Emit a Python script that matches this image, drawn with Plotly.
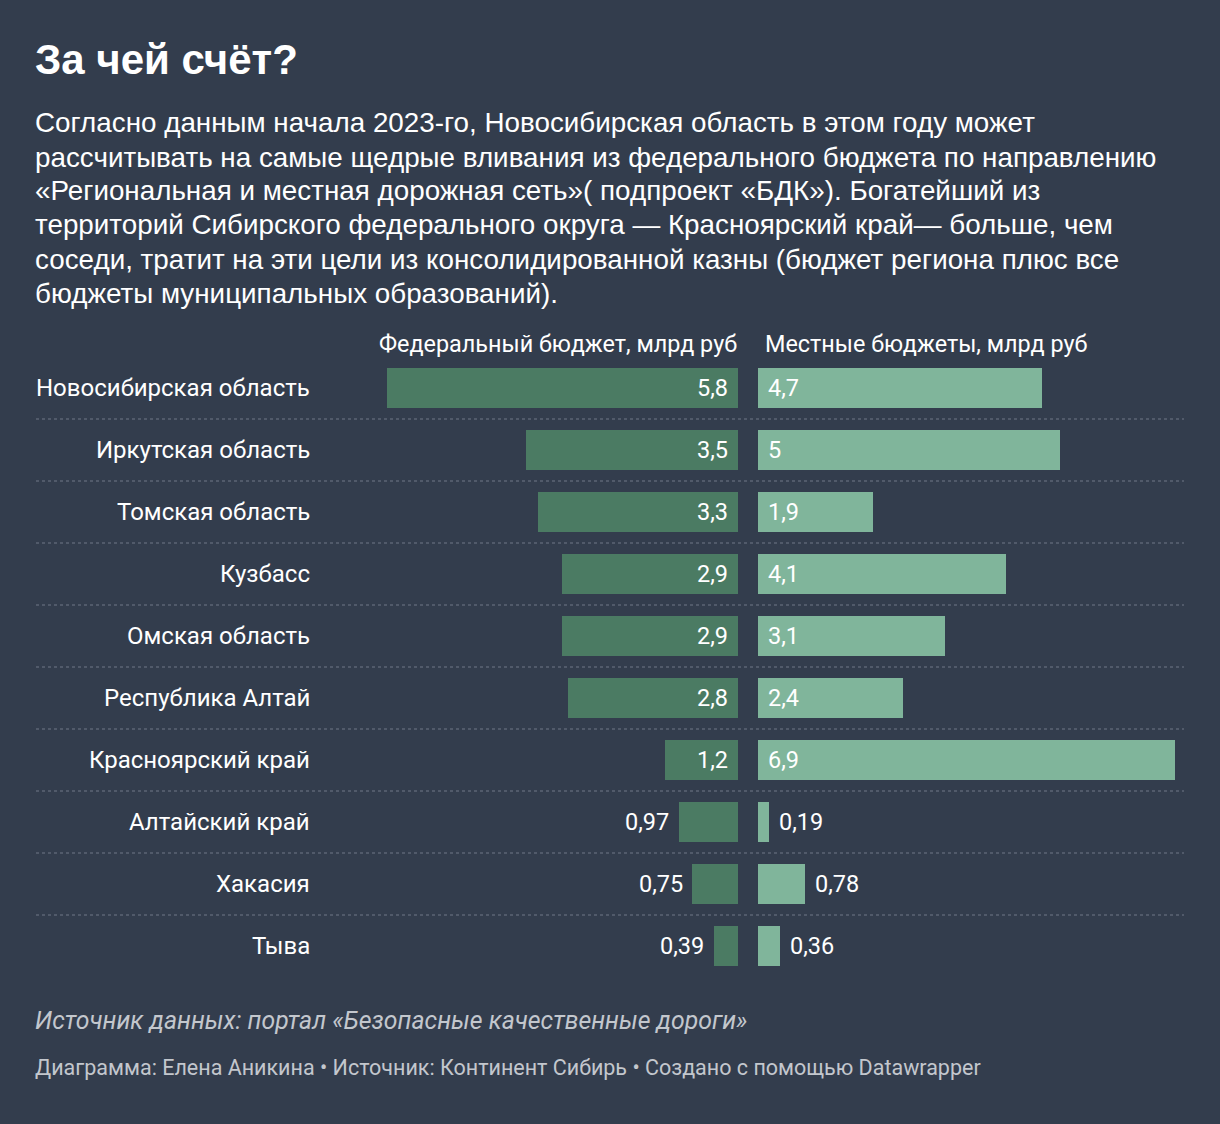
import plotly.graph_objects as go

regions = ["Новосибирская область", "Иркутская область", "Томская область", "Кузбасс",
           "Омская область", "Республика Алтай", "Красноярский край", "Алтайский край",
           "Хакасия", "Тыва"]
federal = [5.8, 3.5, 3.3, 2.9, 2.9, 2.8, 1.2, 0.97, 0.75, 0.39]
local = [4.7, 5.0, 1.9, 4.1, 3.1, 2.4, 6.9, 0.19, 0.78, 0.36]
fed_labels = ["5,8", "3,5", "3,3", "2,9", "2,9", "2,8", "1,2", "0,97", "0,75", "0,39"]
loc_labels = ["4,7", "5", "1,9", "4,1", "3,1", "2,4", "6,9", "0,19", "0,78", "0,36"]

title = "За чей счёт?"
subtitle_lines = [
    "Согласно данным начала 2023-го, Новосибирская область в этом году может",
    "рассчитывать на самые щедрые вливания из федерального бюджета по направлению",
    "«Региональная и местная дорожная сеть»( подпроект «БДК»). Богатейший из",
    "территорий Сибирского федерального округа — Красноярский край— больше, чем",
    "соседи, тратит на эти цели из консолидированной казны (бюджет региона плюс все",
    "бюджеты муниципальных образований).",
]
head_left = "Федеральный бюджет, млрд руб"
head_right = "Местные бюджеты, млрд руб"
note = "Источник данных: портал «Безопасные качественные дороги»"
credit = "Диаграмма: Елена Аникина • Источник: Континент Сибирь • Создано с помощью Datawrapper"

W, H = 1220, 1124
BG = "#333d4d"
DARK = "#4b7b63"
LIGHT = "#80b59b"
PX_PER_UNIT = 60.4
ROW0, ROWSTEP = 388, 62

def px(x):
    return x / W

n = len(regions)
ys = list(range(n))
y_top = (0 - ROW0) / ROWSTEP
y_bot = (H - ROW0) / ROWSTEP

fig = go.Figure()
fig.add_trace(go.Bar(x=federal, y=ys, orientation="h", marker=dict(color=DARK, line=dict(width=0)),
                     width=40 / ROWSTEP, xaxis="x", yaxis="y", hoverinfo="skip"))
fig.add_trace(go.Bar(x=local, y=ys, orientation="h", marker=dict(color=LIGHT, line=dict(width=0)),
                     width=40 / ROWSTEP, xaxis="x2", yaxis="y", hoverinfo="skip"))

left_end = 738
left_max = 6.5
right_start = 758
right_max = 7.2

fig.update_layout(
    width=W, height=H, margin=dict(l=0, r=0, t=0, b=0),
    paper_bgcolor=BG, plot_bgcolor=BG, showlegend=False, bargap=0,
    xaxis=dict(domain=[px(left_end - left_max * PX_PER_UNIT), px(left_end)], range=[left_max, 0],
               visible=False, fixedrange=True),
    xaxis2=dict(domain=[px(right_start), px(right_start + right_max * PX_PER_UNIT)], range=[0, right_max],
                visible=False, fixedrange=True),
    yaxis=dict(domain=[0, 1], range=[y_bot, y_top], visible=False, fixedrange=True),
    font=dict(family="Roboto", color="#ffffff"),
)

VAL = 23.5
ann = []
ann.append(dict(text=f"<b>{title}</b>", x=px(33), y=1 - 59 / H, xref="paper", yref="paper",
                xanchor="left", yanchor="middle", showarrow=False,
                font=dict(family="Liberation Sans", size=42, color="#ffffff")))
for i, line in enumerate(subtitle_lines):
    ann.append(dict(text=line, x=px(33), y=1 - (123 + 34 * i) / H, xref="paper", yref="paper",
                    xanchor="left", yanchor="middle", showarrow=False,
                    font=dict(family="Liberation Sans", size=27.8, color="#ffffff")))
ann.append(dict(text=head_left, x=px(739), y=1 - 344 / H, xref="paper", yref="paper",
                xanchor="right", yanchor="middle", showarrow=False,
                font=dict(size=23.4, color="#ffffff")))
ann.append(dict(text=head_right, x=px(763), y=1 - 344 / H, xref="paper", yref="paper",
                xanchor="left", yanchor="middle", showarrow=False,
                font=dict(size=23.4, color="#ffffff")))

for i in range(n):
    ann.append(dict(text=regions[i], x=px(312), y=ys[i], xref="paper", yref="y",
                    xanchor="right", yanchor="middle", showarrow=False,
                    font=dict(size=24, color="#ffffff")))
    if federal[i] >= 1:
        ann.append(dict(text=fed_labels[i], x=0, y=ys[i], xref="x", yref="y", xanchor="right",
                        xshift=-8, yanchor="middle", showarrow=False, font=dict(size=VAL, color="#ffffff")))
    else:
        ann.append(dict(text=fed_labels[i], x=federal[i], y=ys[i], xref="x", yref="y", xanchor="right",
                        xshift=-8, yanchor="middle", showarrow=False, font=dict(size=VAL, color="#ffffff")))
    if local[i] >= 1:
        ann.append(dict(text=loc_labels[i], x=0, y=ys[i], xref="x2", yref="y", xanchor="left",
                        xshift=8, yanchor="middle", showarrow=False, font=dict(size=VAL, color="#ffffff")))
    else:
        ann.append(dict(text=loc_labels[i], x=local[i], y=ys[i], xref="x2", yref="y", xanchor="left",
                        xshift=8, yanchor="middle", showarrow=False, font=dict(size=VAL, color="#ffffff")))

ann.append(dict(text=f"<i>{note}</i>", x=px(33), y=1 - 1020 / H, xref="paper", yref="paper",
                xanchor="left", yanchor="middle", showarrow=False,
                font=dict(size=24.8, color="#c3c7cd")))
ann.append(dict(text=credit, x=px(33), y=1 - 1067 / H, xref="paper", yref="paper",
                xanchor="left", yanchor="middle", showarrow=False,
                font=dict(size=21.5, color="#c3c7cd")))

shapes = []
for i in range(n - 1):
    shapes.append(dict(type="line", xref="paper", yref="y", x0=px(36), x1=px(1184),
                       y0=ys[i] + 0.5, y1=ys[i] + 0.5,
                       line=dict(color="#717987", width=1.2, dash="dot")))

fig.update_layout(annotations=ann, shapes=shapes)
fig.write_html("out.html", config={"displayModeBar": False},
               post_script="document.body.style.margin='0';document.body.style.overflow='hidden';")
